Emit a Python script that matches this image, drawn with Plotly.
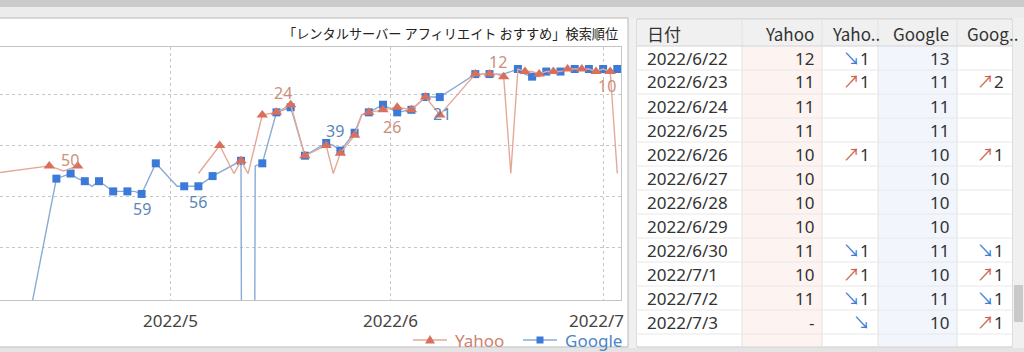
import plotly.graph_objects as go
import pandas as pd

W, H = 1024, 352
FONT = "Noto Sans, Noto Sans CJK JP, sans-serif"
CJK = "Noto Sans CJK JP, Noto Sans, sans-serif"

# ---------------- data ----------------
TITLE = "「レンタルサーバー アフィリエイト おすすめ」検索順位"
OUT = "-"   # 圏外

yahoo_dates = ["2022-04-06", "2022-04-14", "2022-04-16", "2022-04-18", "2022-04-19",
               "2022-05-05", "2022-05-08", "2022-05-10", "2022-05-11", "2022-05-12",
               "2022-05-14", "2022-05-16", "2022-05-18", "2022-05-20", "2022-05-23",
               "2022-05-24", "2022-05-25", "2022-05-27", "2022-05-28", "2022-05-29",
               "2022-05-31", "2022-06-02", "2022-06-04", "2022-06-06", "2022-06-08",
               "2022-06-13", "2022-06-14", "2022-06-15", "2022-06-16", "2022-06-17",
               "2022-06-18", "2022-06-19", "2022-06-20", "2022-06-21", "2022-06-22",
               "2022-06-23", "2022-06-24", "2022-06-25", "2022-06-26", "2022-06-27",
               "2022-06-28", "2022-06-29", "2022-06-30", "2022-07-01", "2022-07-02",
               "2022-07-03"]
yahoo_ranks = [OUT, 48, 50, 48, None,
               OUT, 40, OUT, 46, OUT,
               28, 27, 24, 44, 40,
               OUT, 43, 36, 28, 27,
               26, 25, 26, 21, 28,
               12, 12, 12, 12, 13,
               OUT, 10, 11, 11, 12,
               11, 11, 11, 10, 10,
               10, 10, 11, 10, 11,
               OUT]
yahoo_marked = ["2022-04-14", "2022-04-18", "2022-05-08", "2022-05-11", "2022-05-14",
                "2022-05-16", "2022-05-18", "2022-05-20", "2022-05-23", "2022-05-25",
                "2022-05-27", "2022-05-29", "2022-05-31", "2022-06-02", "2022-06-04",
                "2022-06-06", "2022-06-08", "2022-06-13", "2022-06-15", "2022-06-17",
                "2022-06-20", "2022-06-22", "2022-06-24", "2022-06-26", "2022-06-28",
                "2022-06-30", "2022-07-02"]

google_dates = ["2022-04-11", "2022-04-15", "2022-04-16", "2022-04-17", "2022-04-18",
                "2022-04-19", "2022-04-20", "2022-04-21", "2022-04-22", "2022-04-23",
                "2022-04-24", "2022-04-25", "2022-04-26", "2022-04-27", "2022-04-28",
                "2022-04-29", "2022-05-02", "2022-05-03", "2022-05-04", "2022-05-05",
                "2022-05-06", "2022-05-07", "2022-05-11", "2022-05-12", "2022-05-13",
                "2022-05-14", "2022-05-16", "2022-05-18", "2022-05-20", "2022-05-23",
                "2022-05-24", "2022-05-25", "2022-05-27", "2022-05-28", "2022-05-29",
                "2022-05-31", "2022-06-02", "2022-06-04", "2022-06-06", "2022-06-08",
                "2022-06-13", "2022-06-14", "2022-06-15", "2022-06-17", "2022-06-18",
                "2022-06-19", "2022-06-20", "2022-06-21", "2022-06-22", "2022-06-23",
                "2022-06-24", "2022-06-25", "2022-06-26", "2022-06-27", "2022-06-28",
                "2022-06-29", "2022-06-30", "2022-07-01", "2022-07-02", "2022-07-03"]
google_ranks = [110, 53, 52, 51, 53,
                54, 56, 54, 56, 58,
                58, 58, 58, 59, 53,
                47, 56, 56, 56, 56,
                54, 52, 46, OUT, 48,
                47, 27, 25, 44, 39,
                40, 42, 35, 28, 27,
                24, 27, 26, 21, 21,
                12, 12, 12, 12, 11,
                10, 12, 13, 13, 11,
                11, 11, 10, 10, 10,
                10, 11, 10, 11, 10]
google_marked = ["2022-04-15", "2022-04-17", "2022-04-19", "2022-04-21", "2022-04-23",
                 "2022-04-25", "2022-04-27", "2022-04-29", "2022-05-03", "2022-05-05",
                 "2022-05-07", "2022-05-11", "2022-05-14", "2022-05-16", "2022-05-18",
                 "2022-05-20", "2022-05-23", "2022-05-25", "2022-05-27", "2022-05-29",
                 "2022-05-31", "2022-06-02", "2022-06-04", "2022-06-06", "2022-06-08",
                 "2022-06-13", "2022-06-15", "2022-06-19", "2022-06-21", "2022-06-23",
                 "2022-06-25", "2022-06-27", "2022-06-29", "2022-07-01", "2022-07-03"]

month_ticks = ["2022-05-01", "2022-06-01", "2022-07-01"]
month_labels = ["2022/5", "2022/6", "2022/7"]
rank_grid = [20, 40, 60, 80]
legend_order = ["Yahoo", "Google"]

# value callouts drawn on the chart: (series, date)
callouts = [("Yahoo", "2022-04-16"), ("Google", "2022-04-27"), ("Google", "2022-05-05"),
            ("Yahoo", "2022-05-18"), ("Google", "2022-05-23"), ("Yahoo", "2022-05-31"),
            ("Google", "2022-06-08"), ("Yahoo", "2022-06-15"), ("Yahoo", "2022-07-01")]

table_headers = ["日付", "Yahoo", "Yaho..", "Google", "Goog.."]
table_dates = ["2022-06-22", "2022-06-23", "2022-06-24", "2022-06-25", "2022-06-26",
               "2022-06-27", "2022-06-28", "2022-06-29", "2022-06-30", "2022-07-01",
               "2022-07-02", "2022-07-03"]

# ---------------- styles ----------------
STYLE = {
    "Yahoo": dict(line="#e4a898", marker="#d9705b", symbol="triangle-up", size=10,
                  label="#cc8f7c", legend="#d0826f", out_plot=51),
    "Google": dict(line="#8aabd4", marker="#3b7ad8", symbol="square", size=8,
                   label="#5b86b8", legend="#4d85c9", out_plot=1000),
}
callout_shift = [(6, 11), (0, -15), (0, -16), (-8, 12), (9, 12), (9, -17), (2, -17), (8, 12), (4, -17)]
month_label_shift = [0, 0, -7]
MONTH_LABEL_Y = 320
LEGEND_X = [413, 523]     # left end of each legend symbol (px)
LEGEND_Y = 340
LEGEND_SYM_W = 34

# table geometry (pixels)
TBL_COL_EDGES = [637, 742, 822, 878, 957, 1012]
TBL_HEAD_TOP, TBL_HEAD_BOT, TBL_ROW_H, TBL_BOTTOM = 20, 46, 24, 347
TBL_COL_FILL = ["#ffffff", "#fdf4f2", "#ffffff", "#f2f6fc", "#ffffff"]
TBL_HEAD_ALIGN = ["left", "right", "left", "right", "left"]
TBL_CELL_ALIGN = ["left", "right", "right", "right", "right"]
TBL_PAD = 6

series = {
    "Yahoo": dict(zip(yahoo_dates, yahoo_ranks)),
    "Google": dict(zip(google_dates, google_ranks)),
}
marked = {"Yahoo": set(yahoo_marked), "Google": set(google_marked)}


def plot_value(name, v):
    if v is None:
        return None
    if v == OUT:
        return STYLE[name]["out_plot"]
    return v


def px_x(x):
    return x / W


def px_y(y):
    return 1 - y / H


fig = go.Figure()

for name in ["Google", "Yahoo"]:
    st = STYLE[name]
    ds = list(series[name].keys())
    vs = [plot_value(name, series[name][d]) for d in ds]
    cols = [st["marker"] if d in marked[name] else "rgba(0,0,0,0)" for d in ds]
    fig.add_trace(go.Scatter(
        x=pd.to_datetime(ds), y=vs, mode="lines+markers", name=name,
        showlegend=False, connectgaps=False,
        line=dict(color=st["line"], width=1.4),
        marker=dict(symbol=st["symbol"], size=st["size"], color=cols, line=dict(width=0)),
        hoverinfo="skip",
    ))

annotations = []
shapes = []
for (name, d), (sx, sy) in zip(callouts, callout_shift):
    v = series[name][d]
    annotations.append(dict(
        x=pd.Timestamp(d), y=v, xref="x", yref="y", text=str(v), showarrow=False,
        xshift=sx, yshift=sy, font=dict(size=16, color=STYLE[name]["label"], family=FONT)))

for t, lab, sx in zip(month_ticks, month_labels, month_label_shift):
    annotations.append(dict(
        x=pd.Timestamp(t), y=px_y(MONTH_LABEL_Y), xref="x", yref="paper", text=lab,
        showarrow=False, xshift=sx, yanchor="middle",
        font=dict(size=17, color="#444", family=FONT)))

annotations.append(dict(
    x=px_x(620), y=px_y(33), xref="paper", yref="paper", xanchor="right", yanchor="middle",
    text=TITLE, showarrow=False, font=dict(size=13.2, color="#222", family=CJK)))

# ---------- legend (drawn) ----------
for name, lx in zip(legend_order, LEGEND_X):
    st = STYLE[name]
    cx = lx + LEGEND_SYM_W / 2
    shapes.append(dict(type="line", xref="paper", yref="paper", x0=px_x(lx), x1=px_x(lx + LEGEND_SYM_W),
                       y0=px_y(LEGEND_Y), y1=px_y(LEGEND_Y), line=dict(color=st["line"], width=1.4)))
    if st["symbol"] == "triangle-up":
        path = (f"M {px_x(cx)},{px_y(LEGEND_Y - 5)} L {px_x(cx - 5)},{px_y(LEGEND_Y + 3.5)} "
                f"L {px_x(cx + 5)},{px_y(LEGEND_Y + 3.5)} Z")
        shapes.append(dict(type="path", xref="paper", yref="paper", path=path,
                           fillcolor=st["marker"], line=dict(width=0)))
    else:
        shapes.append(dict(type="rect", xref="paper", yref="paper",
                           x0=px_x(cx - 3.5), x1=px_x(cx + 3.5), y0=px_y(LEGEND_Y + 3.5),
                           y1=px_y(LEGEND_Y - 3.5), fillcolor=st["marker"], line=dict(width=0)))
    annotations.append(dict(x=px_x(lx + LEGEND_SYM_W + 6), y=px_y(LEGEND_Y), xref="paper", yref="paper",
                            xanchor="left", yanchor="middle", text=name, showarrow=False,
                            font=dict(size=17, color=st["legend"], family=FONT)))


# ---------- table built from the series ----------
def arrow(prev, cur):
    up = '<span style="color:#d0604a">↗</span>'
    down = '<span style="color:#3a7bd5">↘</span>'
    if cur == OUT:
        return down
    if prev is None or prev == OUT:
        return ""
    diff = prev - cur
    if diff > 0:
        return f"{up}{diff}"
    if diff < 0:
        return f"{down}{-diff}"
    return ""


def prev_value(name, d):
    keys = list(series[name].keys())
    i = keys.index(d)
    return series[name][keys[i - 1]] if i > 0 else None


col_date = [f"{pd.Timestamp(d).year}/{pd.Timestamp(d).month}/{pd.Timestamp(d).day}" for d in table_dates]
col_y = [str(series["Yahoo"][d]) for d in table_dates]
col_yc = [arrow(prev_value("Yahoo", d), series["Yahoo"][d]) for d in table_dates]
col_g = [str(series["Google"][d]) for d in table_dates]
col_gc = [arrow(prev_value("Google", d), series["Google"][d]) for d in table_dates]
table_cols = [col_date, col_y, col_yc, col_g, col_gc]
n = len(table_dates)

shapes += [
    dict(type="rect", xref="paper", yref="paper", x0=0, x1=1, y0=px_y(7), y1=1,
         fillcolor="#cbcbcb", line=dict(width=0), layer="below"),
    dict(type="rect", xref="paper", yref="paper", x0=0, x1=1, y0=px_y(18), y1=px_y(7),
         fillcolor="#ececec", line=dict(width=0), layer="below"),
    dict(type="rect", xref="paper", yref="paper", x0=-0.01, x1=px_x(628), y0=px_y(347), y1=px_y(18),
         fillcolor="#ffffff", line=dict(color="#b8b8b8", width=1), layer="below"),
    dict(type="rect", xref="paper", yref="paper", x0=0, x1=1, y0=0, y1=px_y(348),
         fillcolor="#e4e4e4", line=dict(width=0), layer="below"),
    dict(type="rect", xref="paper", yref="paper", x0=px_x(1014), x1=px_x(1023), y0=px_y(322), y1=px_y(285),
         fillcolor="#c9c9c9", line=dict(width=0), layer="below"),
]

# table panel background, header, column tints
shapes.append(dict(type="rect", xref="paper", yref="paper", x0=px_x(TBL_COL_EDGES[0]),
                   x1=px_x(TBL_COL_EDGES[-1]), y0=px_y(TBL_BOTTOM), y1=px_y(TBL_HEAD_TOP - 1),
                   fillcolor="#ffffff", line=dict(color="#c8c8c8", width=1), layer="below"))
for j in range(len(table_headers)):
    shapes.append(dict(type="rect", xref="paper", yref="paper",
                       x0=px_x(TBL_COL_EDGES[j]), x1=px_x(TBL_COL_EDGES[j + 1]),
                       y0=px_y(TBL_BOTTOM - 1), y1=px_y(TBL_HEAD_BOT),
                       fillcolor=TBL_COL_FILL[j], line=dict(width=0), layer="below"))
    shapes.append(dict(type="rect", xref="paper", yref="paper",
                       x0=px_x(TBL_COL_EDGES[j]), x1=px_x(TBL_COL_EDGES[j + 1]),
                       y0=px_y(TBL_HEAD_BOT), y1=px_y(TBL_HEAD_TOP),
                       fillcolor="#f0f0f0", line=dict(width=0), layer="below"))
for j in range(1, len(TBL_COL_EDGES) - 1):
    shapes.append(dict(type="line", xref="paper", yref="paper",
                       x0=px_x(TBL_COL_EDGES[j]), x1=px_x(TBL_COL_EDGES[j]),
                       y0=px_y(TBL_BOTTOM - 1), y1=px_y(TBL_HEAD_TOP),
                       line=dict(color="#e2e2e2", width=1), layer="below"))
shapes.append(dict(type="line", xref="paper", yref="paper", x0=px_x(TBL_COL_EDGES[0]),
                   x1=px_x(TBL_COL_EDGES[-1]), y0=px_y(TBL_HEAD_BOT), y1=px_y(TBL_HEAD_BOT),
                   line=dict(color="#d4d4d4", width=1), layer="below"))
for i in range(1, n + 1):
    yb = TBL_HEAD_BOT + i * TBL_ROW_H
    shapes.append(dict(type="line", xref="paper", yref="paper", x0=px_x(TBL_COL_EDGES[0]),
                       x1=px_x(TBL_COL_EDGES[-1]), y0=px_y(yb), y1=px_y(yb),
                       line=dict(color="#e8e8e8", width=1), layer="below"))


def cell_annot(text, j, yc, align, family):
    if align == "left":
        xx, anchor = TBL_COL_EDGES[j] + TBL_PAD + 2, "left"
    else:
        xx, anchor = TBL_COL_EDGES[j + 1] - TBL_PAD, "right"
    return dict(x=px_x(xx), y=px_y(yc), xref="paper", yref="paper", xanchor=anchor,
                yanchor="middle", text=text, showarrow=False,
                font=dict(size=17, color="#333", family=family))


for j, h in enumerate(table_headers):
    annotations.append(cell_annot(h, j, (TBL_HEAD_TOP + TBL_HEAD_BOT) / 2 + 1, TBL_HEAD_ALIGN[j], CJK))
for j, col in enumerate(table_cols):
    for i, t in enumerate(col):
        if t:
            yc = TBL_HEAD_BOT + TBL_ROW_H * (i + 0.5)
            annotations.append(cell_annot(t, j, yc, TBL_CELL_ALIGN[j], FONT))

fig.update_layout(
    width=W, height=H, margin=dict(l=0, r=0, t=0, b=0, autoexpand=False),
    paper_bgcolor="#f0f0f0", plot_bgcolor="#fafafc",
    font=dict(family=FONT, size=17, color="#444"),
    showlegend=False,
    xaxis=dict(domain=[0, px_x(621)], type="date",
               range=["2022-04-07 01:21", "2022-07-03 12:30"],
               tickvals=month_ticks, showticklabels=False, ticks="",
               showgrid=True, gridcolor="#c6c6c6", griddash="3px,3px", gridwidth=1,
               showline=True, linecolor="#c4c4c4", mirror=True, fixedrange=True),
    yaxis=dict(domain=[px_y(300), px_y(47)], range=[100.6, 1.37], tickvals=rank_grid,
               showticklabels=False, ticks="", showgrid=True, gridcolor="#c6c6c6",
               griddash="3px,3px", gridwidth=1, zeroline=False, side="right",
               showline=True, linecolor="#c4c4c4", mirror=False, fixedrange=True),
    shapes=shapes,
    annotations=annotations,
)

fig.write_html("out.html")
